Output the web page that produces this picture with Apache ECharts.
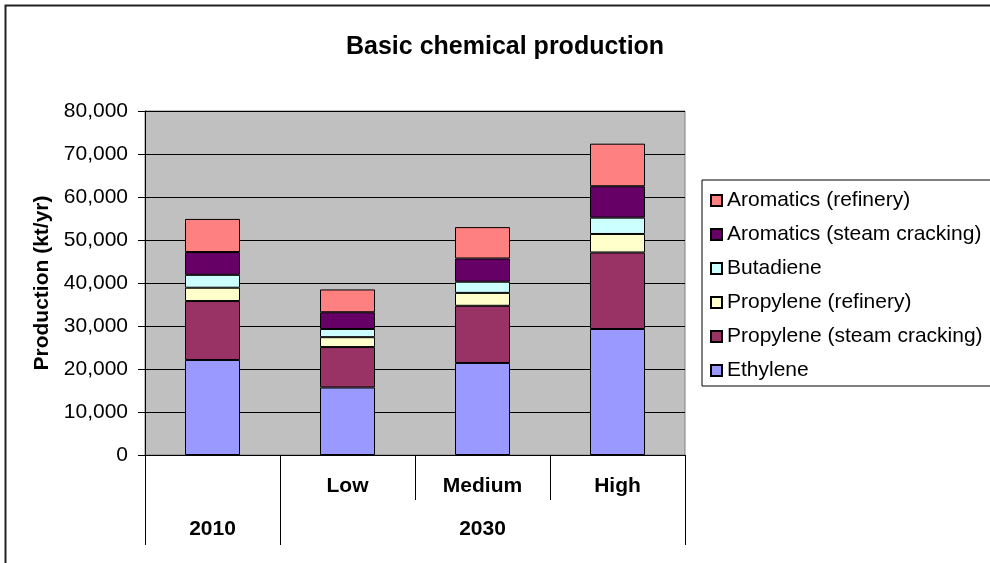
<!DOCTYPE html>
<html>
<head>
<meta charset="utf-8">
<script src="https://cdn.jsdelivr.net/npm/echarts@6/dist/echarts.min.js"></script>
<style>
  html, body { margin: 0; padding: 0; background: #fff; }
  #main { width: 990px; height: 563px; }
</style>
</head>
<body>
<div id="main"></div>
<script>
const scenarios = ['', 'Low', 'Medium', 'High']
const years = ['2010', '2030']

const ethylene = [22100, 15700, 21400, 29300]
const propyleneSteam = [13700, 9400, 13300, 17800]
const propyleneRefinery = [3100, 2300, 3000, 4300]
const butadiene = [3000, 1900, 2600, 3800]
const aromaticsSteam = [5300, 3900, 5400, 7300]
const aromaticsRefinery = [7700, 5300, 7300, 9900]

const font = 'Liberation Sans, Arial, sans-serif'

const chart = echarts.init(document.getElementById('main'))

const mkSeries = (name, data, color) => ({
  name,
  type: 'bar',
  stack: 'total',
  data,
  barWidth: 55,
  itemStyle: { color, borderColor: '#000', borderWidth: 1 }
})

chart.setOption({
  animation: false,
  backgroundColor: '#fff',
  textStyle: { fontFamily: font },
  title: {
    text: 'Basic chemical production',
    left: 341,
    top: 30,
    textStyle: { fontSize: 25, fontWeight: 'bold', color: '#000', fontFamily: font }
  },
  graphic: [
    {
      type: 'rect',
      shape: { x: 5.5, y: 5.5, width: 1000, height: 600 },
      style: { fill: 'none', stroke: '#222', lineWidth: 2 },
      silent: true
    }
  ],
  legend: {
    orient: 'vertical',
    left: 702,
    top: 180,
    padding: [10, 10, 5, 8],
    itemGap: 13,
    itemWidth: 11,
    itemHeight: 11,
    borderColor: '#000',
    borderWidth: 1,
    icon: 'rect',
    textStyle: { fontSize: 21, color: '#000', fontFamily: font, lineHeight: 20 },
    data: [
      'Aromatics (refinery)',
      'Aromatics (steam cracking)',
      'Butadiene',
      'Propylene (refinery)',
      'Propylene (steam cracking)',
      'Ethylene'
    ]
  },
  grid: {
    left: 145,
    right: 305,
    top: 111,
    bottom: 108,
    show: true,
    backgroundColor: '#C0C0C0',
    borderColor: '#808080',
    borderWidth: 1
  },
  xAxis: [
    {
      type: 'category',
      data: scenarios,
      axisLine: { lineStyle: { color: '#000', width: 1 } },
      axisTick: { show: true, length: 45, lineStyle: { color: '#000' } },
      axisLabel: {
        color: '#000',
        fontSize: 21,
        fontWeight: 'bold',
        fontFamily: font,
        margin: 21
      }
    },
    {
      type: 'value',
      position: 'bottom',
      min: 0,
      max: 4,
      splitLine: { show: false },
      axisLine: { show: false },
      axisTick: {
        show: true,
        length: 90,
        customValues: [0, 1, 4],
        lineStyle: { color: '#000' }
      },
      axisLabel: {
        customValues: [0.5, 2.5],
        formatter: (v) => (v < 1 ? years[0] : years[1]),
        color: '#000',
        fontSize: 21,
        fontWeight: 'bold',
        fontFamily: font,
        margin: 64
      }
    }
  ],
  yAxis: {
    type: 'value',
    min: 0,
    max: 80000,
    interval: 10000,
    name: 'Production (kt/yr)',
    nameLocation: 'middle',
    nameGap: 92,
    nameTextStyle: { fontSize: 21, fontWeight: 'bold', color: '#000', fontFamily: font },
    axisLine: { show: true, lineStyle: { color: '#000' } },
    axisTick: { show: true, length: 7, lineStyle: { color: '#000' } },
    splitLine: { lineStyle: { color: '#000', width: 1 } },
    axisLabel: {
      color: '#000',
      fontSize: 21,
      fontFamily: font,
      margin: 17,
      formatter: (v) => v.toLocaleString('en-US')
    }
  },
  series: [
    mkSeries('Ethylene', ethylene, '#9999FF'),
    mkSeries('Propylene (steam cracking)', propyleneSteam, '#993366'),
    mkSeries('Propylene (refinery)', propyleneRefinery, '#FFFFCC'),
    mkSeries('Butadiene', butadiene, '#CCFFFF'),
    mkSeries('Aromatics (steam cracking)', aromaticsSteam, '#660066'),
    mkSeries('Aromatics (refinery)', aromaticsRefinery, '#FF8080')
  ]
})
</script>
</body>
</html>
